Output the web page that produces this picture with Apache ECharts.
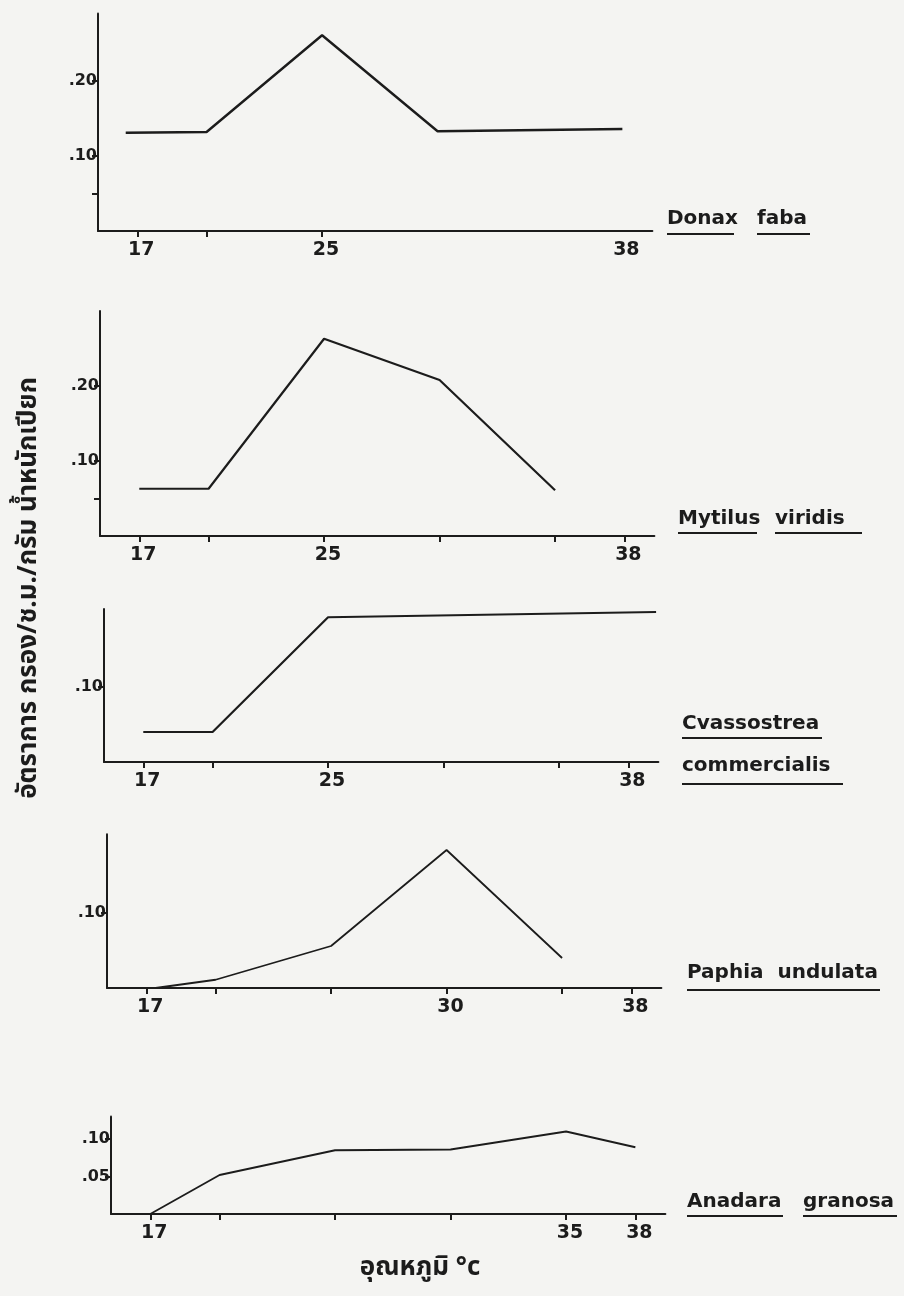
<!DOCTYPE html>
<html><head><meta charset="utf-8">
<script src="https://cdn.jsdelivr.net/npm/echarts@6/dist/echarts.min.js"></script>
<style>html,body{margin:0;padding:0;background:#f4f4f2}#c{width:904px;height:1296px}</style>
</head><body><div id="c"></div>
<script>
// ---- data ----
const donaxTemp   = [16.5, 20, 25, 30, 38];
const donaxRate   = [0.131, 0.132, 0.261, 0.133, 0.136];
const mytilusTemp = [17, 20, 25, 30, 35];
const mytilusRate = [0.063, 0.063, 0.263, 0.208, 0.061];
const crassoTemp  = [17, 20, 25, 39.2];
const crassoRate  = [0.040, 0.040, 0.193, 0.200];
const paphiaTemp  = [17.4, 20, 25, 30, 35];
const paphiaRate  = [0, 0.011, 0.056, 0.184, 0.040];
const anadaraTemp = [17, 20, 25, 30, 35, 38];
const anadaraRate = [0, 0.052, 0.085, 0.086, 0.110, 0.089];

const xTicksShort = [17, 20, 25];
const xTicksFull  = [17, 20, 25, 30, 35, 38];
const xLabelsA = [17, 25, 38];
const xLabelsB = [17, 30, 38];
const xLabelsC = [17, 35, 38];
const yTicksA  = [0.05, 0.10, 0.20];
const yLabelsA = [0.10, 0.20];
const yTicksB  = [0.10];
const yTicksC  = [0.05, 0.10];

const yTitle = 'อัตราการ กรอง/ช.ม./กรัม น้ำหนักเปียก';
const xTitle = 'อุณหภูมิ °c';

// ---- layout ----
const INK = '#1c1c1c';
const FONT = '"DejaVu Sans", sans-serif';
const THAI = '"Noto Sans Thai", "Noto Sans Thai UI", Loma, Garuda, "Norasi", "Noto Sans", sans-serif';
const PX_DEG = 23.1, PX_UNIT = 750, XMIN = 15.3, XMAX = 39.3;
const panels = [
  {temp: donaxTemp,   rate: donaxRate,   left: 98,  zero: 231,  ymax: 0.29,  xt: xTicksShort, xl: xLabelsA, yt: yTicksA, yl: yLabelsA, w: 2.4},
  {temp: mytilusTemp, rate: mytilusRate, left: 100, zero: 536,  ymax: 0.30,  xt: xTicksFull,  xl: xLabelsA, yt: yTicksA, yl: yLabelsA, w: 2.2},
  {temp: crassoTemp,  rate: crassoRate,  left: 104, zero: 762,  ymax: 0.204, xt: xTicksFull,  xl: xLabelsA, yt: yTicksB, yl: yTicksB, w: 2.2},
  {temp: paphiaTemp,  rate: paphiaRate,  left: 107, zero: 988,  ymax: 0.205, xt: xTicksFull,  xl: xLabelsB, yt: yTicksB, yl: yTicksB, w: 1.8},
  {temp: anadaraTemp, rate: anadaraRate, left: 111, zero: 1214, ymax: 0.13,  xt: xTicksFull,  xl: xLabelsC, yt: yTicksC, yl: yTicksC, w: 1.8}
];

const grid = [], xAxis = [], yAxis = [], series = [];
panels.forEach((p, i) => {
  const h = p.ymax * PX_UNIT;
  grid.push({left: p.left, top: p.zero - h, width: (XMAX - XMIN) * PX_DEG, height: h});
  xAxis.push({
    gridIndex: i, type: 'value', min: XMIN, max: XMAX,
    axisLine: {show: true, onZero: false, lineStyle: {color: INK, width: 2}},
    axisTick: {show: true, customValues: p.xt, length: 6, lineStyle: {color: INK, width: 2}},
    axisLabel: {customValues: p.xl, color: INK, fontSize: 19, fontWeight: 'bold', fontFamily: FONT, margin: 10,
      padding: [0, 0, 0, 8]},
    splitLine: {show: false}
  });
  yAxis.push({
    gridIndex: i, type: 'value', min: 0, max: p.ymax,
    axisLine: {show: true, onZero: false, lineStyle: {color: INK, width: 2}},
    axisTick: {show: true, customValues: p.yt, length: 6, lineStyle: {color: INK, width: 2}},
    axisLabel: {customValues: p.yl, color: INK, fontSize: 16, fontWeight: 'bold', fontFamily: FONT, margin: 1,
      padding: [0, 0, 5, 0],
      formatter: v => v.toFixed(2).replace(/^0/, '')},
    splitLine: {show: false}
  });
  series.push({
    type: 'line', xAxisIndex: i, yAxisIndex: i, showSymbol: false, animation: false,
    lineStyle: {color: INK, width: p.w}, silent: true,
    data: p.temp.map((t, k) => [t, p.rate[k]])
  });
});

// species names (word, left x, centre y, underline x1, x2, underline y)
const words = [
  ['Donax', 667, 219, 667, 734, 234],
  ['faba', 757, 219, 757, 810, 234],
  ['Mytilus', 678, 519, 678, 757, 533],
  ['viridis', 775, 519, 775, 862, 533],
  ['Cvassostrea', 682, 724, 682, 822, 738],
  ['commercialis', 682, 766, 682, 843, 784],
  ['Paphia  undulata', 687, 973, 687, 880, 990],
  ['Anadara', 687, 1202, 687, 783, 1216],
  ['granosa', 803, 1202, 803, 897, 1216]
];
const graphic = [];
words.forEach(w => {
  graphic.push({type: 'text', x: w[1], y: w[2], style: {text: w[0], fill: INK, font: 'bold 20px ' + FONT, textAlign: 'left', textVerticalAlign: 'middle'}});
  graphic.push({type: 'line', shape: {x1: w[3], y1: w[5], x2: w[4], y2: w[5]}, style: {stroke: INK, lineWidth: 2}});
});
graphic.push({type: 'text', x: 31, y: 588, rotation: Math.PI / 2,
  style: {text: yTitle, fill: INK, font: 'bold 26px ' + THAI, textAlign: 'center', textVerticalAlign: 'middle'}});
graphic.push({type: 'text', x: 420, y: 1270,
  style: {text: xTitle, fill: INK, font: 'bold 26px ' + THAI, textAlign: 'center', textVerticalAlign: 'middle'}});

const chart = echarts.init(document.getElementById('c'), null, {renderer: 'canvas'});
chart.setOption({backgroundColor: '#f4f4f2', animation: false, grid, xAxis, yAxis, series, graphic});
</script></body></html>
